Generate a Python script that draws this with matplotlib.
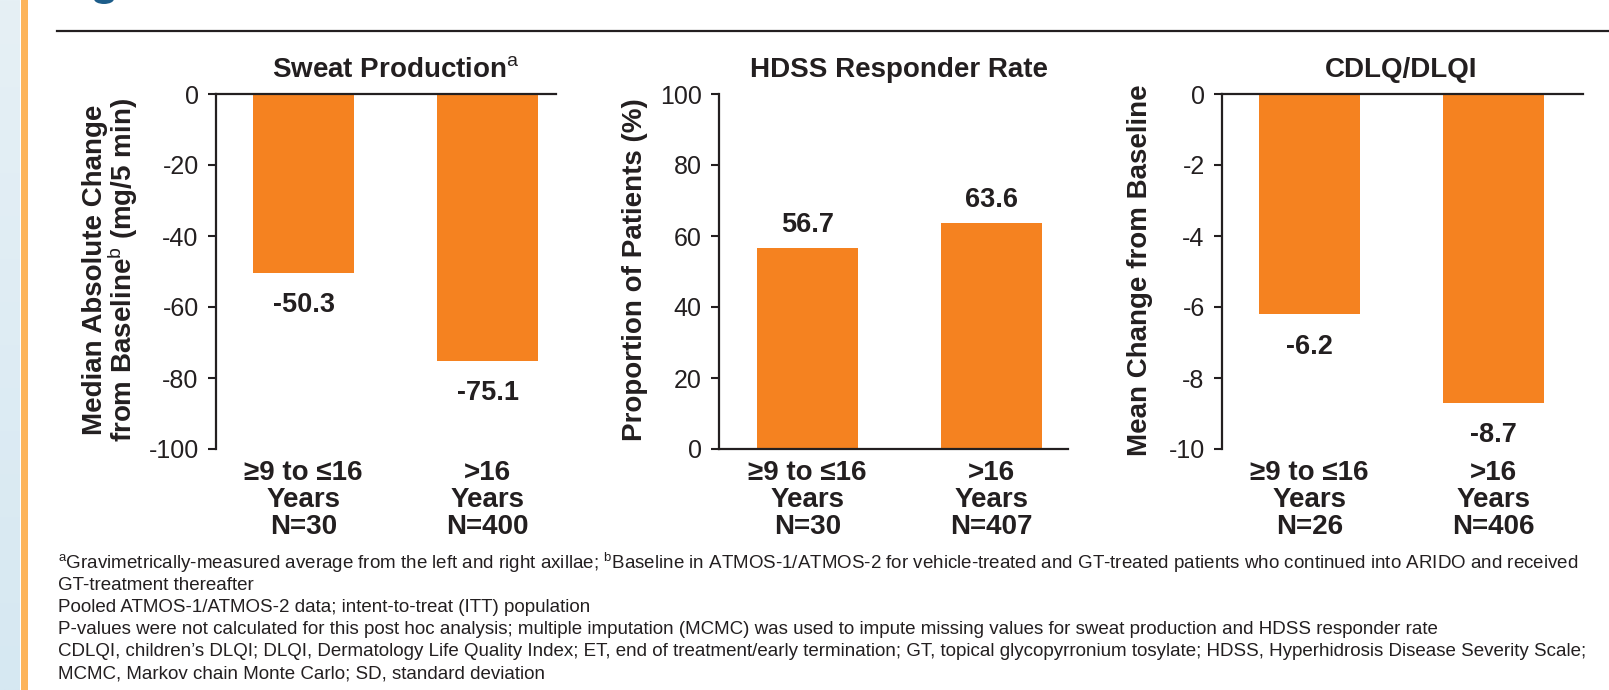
import matplotlib
matplotlib.use('Agg')
import matplotlib.pyplot as plt
import numpy as np
from matplotlib.patches import Rectangle, Ellipse
from matplotlib.lines import Line2D
from matplotlib.colors import LinearSegmentedColormap
import matplotlib.transforms as mtransforms
from matplotlib import font_manager

# ---------------- data ----------------
groups_sweat = ['≥9 to ≤16\nYears\nN=30', '>16\nYears\nN=400']
sweat_values = [-50.3, -75.1]
sweat_ticks = [0, -20, -40, -60, -80, -100]

groups_hdss = ['≥9 to ≤16\nYears\nN=30', '>16\nYears\nN=407']
hdss_values = [56.7, 63.6]
hdss_ticks = [0, 20, 40, 60, 80, 100]

groups_dlqi = ['≥9 to ≤16\nYears\nN=26', '>16\nYears\nN=406']
dlqi_values = [-6.2, -8.7]
dlqi_ticks = [0, -2, -4, -6, -8, -10]

titles = [r'Sweat Production$^{\mathrm{a}}$', 'HDSS Responder Rate', 'CDLQ/DLQI']
ylabels = [r'Median Absolute Change' + '\n' + r'from Baseline$^{\mathrm{b}}$ (mg/5 min)',
           'Proportion of Patients (%)',
           'Mean Change from Baseline']

footnotes = [
    r'$^{\mathrm{a}}$Gravimetrically-measured average from the left and right axillae; $^{\mathrm{b}}$Baseline in ATMOS-1/ATMOS-2 for vehicle-treated and GT-treated patients who continued into ARIDO and received',
    'GT-treatment thereafter',
    'Pooled ATMOS-1/ATMOS-2 data; intent-to-treat (ITT) population',
    'P-values were not calculated for this post hoc analysis; multiple imputation (MCMC) was used to impute missing values for sweat production and HDSS responder rate',
    'CDLQI, children\u2019s DLQI; DLQI, Dermatology Life Quality Index; ET, end of treatment/early termination; GT, topical glycopyrronium tosylate; HDSS, Hyperhidrosis Disease Severity Scale;',
    'MCMC, Markov chain Monte Carlo; SD, standard deviation',
]

# ---------------- style ----------------
W, H = 1609, 690
DARK = '#231f20'
ORANGE = '#f58220'

plt.rcParams['font.family'] = ['Liberation Sans', 'DejaVu Sans']
plt.rcParams['mathtext.fontset'] = 'custom'
plt.rcParams['mathtext.rm'] = 'Liberation Sans'
plt.rcParams['mathtext.bf'] = 'Liberation Sans:bold'
plt.rcParams['mathtext.it'] = 'Liberation Sans:italic'

names = {f.name for f in font_manager.fontManager.ttflist}
narrow = 'Liberation Sans Narrow' if 'Liberation Sans Narrow' in names else 'Liberation Sans'

fig = plt.figure(figsize=(W / 100, H / 100), dpi=100)
fig.patch.set_facecolor('white')

# left decoration strips
gax = fig.add_axes([0, 0, 20 / W, 1])
grad = np.linspace(0, 1, 256).reshape(-1, 1)
cmap = LinearSegmentedColormap.from_list('g', ['#e6f0f5', '#d6e8f2'])
gax.imshow(grad, aspect='auto', cmap=cmap, extent=[0, 1, 0, 1])
gax.set_axis_off()
fig.patches.append(Rectangle((20.5 / W, 0), 7 / W, 1, transform=fig.transFigure,
                             facecolor='#fdb45a', edgecolor='none', zorder=1))
# header line and fragment
fig.lines.append(Line2D([57 / W, 1], [1 - 31 / H, 1 - 31 / H], transform=fig.transFigure,
                        color=DARK, lw=1.6))
fig.patches.append(Ellipse((104 / W, 1 + 1 / H), 20 / W, 10 / H, transform=fig.transFigure,
                           facecolor='#1d5d8a', edgecolor='none'))

panels = [
    dict(left=216, right=556, centers=(303.5, 487.5), groups=groups_sweat, values=sweat_values,
         ticks=sweat_ticks, ylim=(-100, 0), zero='top', ylabel_x=111),
    dict(left=719, right=1068, centers=(807.5, 991.5), groups=groups_hdss, values=hdss_values,
         ticks=hdss_ticks, ylim=(0, 100), zero='bottom', ylabel_x=635),
    dict(left=1222, right=1583, centers=(1309.5, 1493.5), groups=groups_dlqi, values=dlqi_values,
         ticks=dlqi_ticks, ylim=(-10, 0), zero='top', ylabel_x=1140),
]

top_px, bot_px = 94, 449
for k, p in enumerate(panels):
    ax = fig.add_axes([p['left'] / W, 1 - bot_px / H, (p['right'] - p['left']) / W, (bot_px - top_px) / H])
    spacing = p['centers'][1] - p['centers'][0]
    x0 = (p['left'] - p['centers'][0]) / spacing
    x1 = (p['right'] - p['centers'][0]) / spacing
    xs = np.arange(len(p['values']))
    ax.bar(xs, p['values'], width=101 / spacing, color=ORANGE, zorder=2)
    ax.set_xlim(x0, x1)
    ax.set_ylim(*p['ylim'])
    for s in ['top', 'bottom', 'right']:
        ax.spines[s].set_visible(False)
    ax.spines[p['zero']].set_visible(True)
    for s in ['left', p['zero']]:
        ax.spines[s].set_linewidth(1.6)
        ax.spines[s].set_color(DARK)
    ax.set_yticks(p['ticks'])
    ax.set_yticklabels([str(t) for t in p['ticks']])
    ax.tick_params(axis='y', length=5.5, width=1.5, color=DARK, labelsize=18,
                   labelcolor=DARK, pad=7)
    ax.set_xticks(xs)
    ax.set_xticklabels(p['groups'], fontsize=20, fontweight='bold', color=DARK,
                       linespacing=1.04)
    ax.tick_params(axis='x', length=0, pad=8)
    ax.patch.set_alpha(0)

    for i, v in enumerate(p['values']):
        if v < 0:
            ax.annotate(f'{v}', (i, v), xytext=(0, -14), textcoords='offset points',
                        ha='center', va='top', fontsize=19.5, fontweight='bold', color=DARK)
        else:
            ax.annotate(f'{v}', (i, v), xytext=(0, 7), textcoords='offset points',
                        ha='center', va='bottom', fontsize=19.5, fontweight='bold', color=DARK)

    trans = mtransforms.blended_transform_factory(ax.transData, ax.transAxes)
    ax.text(0.5, 1 + 17 / (bot_px - top_px), titles[k], transform=trans, ha='center',
            va='baseline', fontsize=20, fontweight='bold', color=DARK)

    fig.text(p['ylabel_x'] / W, 1 - 270 / H, ylabels[k], rotation=90, ha='center', va='center',
             fontsize=20, fontweight='bold', color=DARK, linespacing=0.92)

# footnotes
foot_y = [563, 585, 607, 630, 652, 674]
texts = []
for s, y in zip(footnotes, foot_y):
    t = fig.text(58 / W, 1 - y / H, s, ha='left', va='center', fontsize=13, color=DARK,
                 family=[narrow, 'Liberation Sans', 'DejaVu Sans'])
    texts.append(t)
fig.canvas.draw()
r = fig.canvas.get_renderer()
w = texts[4].get_window_extent(r).width
target = 1588 - 58
fs = 13 * target / w
for t in texts:
    t.set_fontsize(fs)

fig.savefig('out.png', dpi=100)
